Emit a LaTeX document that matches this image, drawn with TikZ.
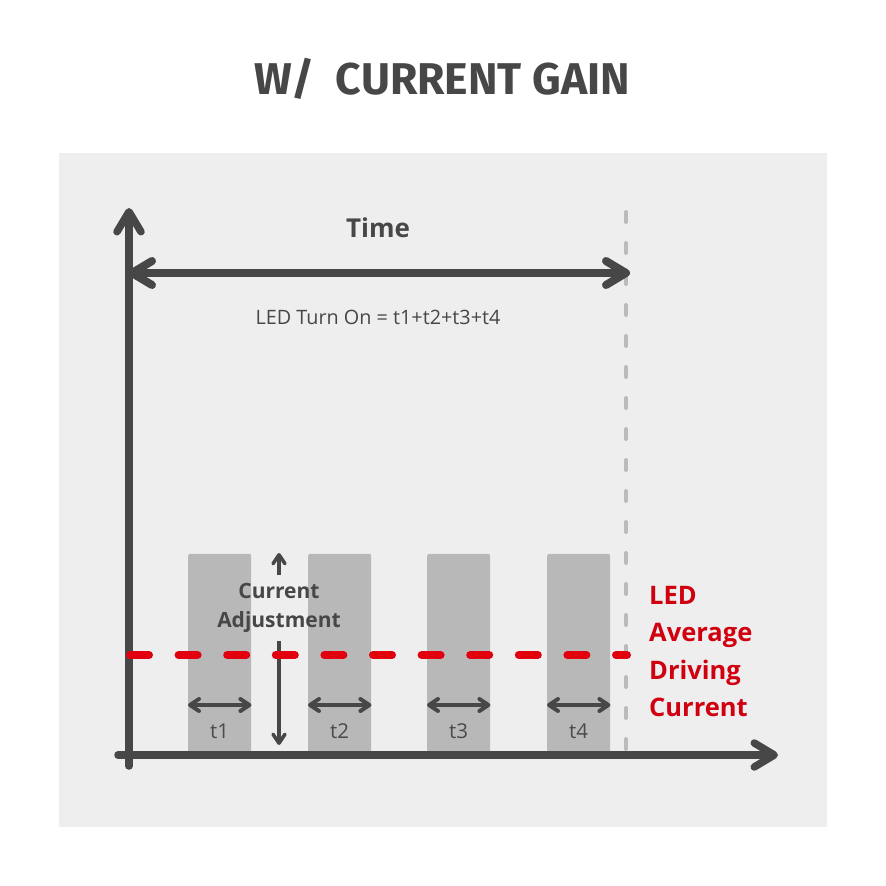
\documentclass[tikz,border=0pt]{standalone}
\usepackage{fontspec}
\setmainfont{Open Sans}
\newfontfamily\titlefont{Fira Sans}
\usetikzlibrary{arrows.meta,positioning}
\definecolor{axisgray}{HTML}{474747}
\definecolor{panelgray}{HTML}{EEEEEE}
\definecolor{bargray}{HTML}{B8B8B8}
\definecolor{guidegray}{HTML}{BBBBBB}
\definecolor{labelgray}{HTML}{4A4A4A}
\definecolor{avgred}{HTML}{E2000F}
\definecolor{textred}{HTML}{D0000F}

\tikzset{
	bighead/.tip={Straight Barb[length=20pt,width=24pt,line cap=round,line join=round]},
	smallhead/.tip={Straight Barb[length=9pt,width=12pt,line cap=round,line join=round]},
	axisline/.style={line width=7.5pt, axisgray, line cap=round},
	tarrow/.style={line width=4pt, axisgray, {smallhead}-{smallhead}},
	adjarrow/.style={line width=3.5pt, axisgray, -{smallhead}},
	bar/.style={fill=bargray, rounded corners=1.5pt, inner sep=0pt, minimum width=63pt, minimum height=199pt, anchor=south west},
	tlabel/.style={font=\fontsize{20.5}{20.5}\selectfont, text=labelgray},
}

\begin{document}
\begin{tikzpicture}[x=1pt,y=-1pt]
	\useasboundingbox[fill=white] (0,0) rectangle (886,886);
	\fill[panelgray] (59,153) rectangle (827,827);
	
	\node[font=\titlefont\bfseries\fontsize{44.5}{44.5}\selectfont, text=axisgray] (title) at (442,79) {W/\ \ CURRENT GAIN};
	
	\coordinate (ybot) at (129,766);
	\coordinate (ytop) at (129,208);
	\coordinate (xbeg) at (118,755);
	\coordinate (xend) at (778,755);
	\coordinate (tbeg) at (128,273);
	\coordinate (tend) at (630,273);
	\coordinate (gtop) at (626,212);
	\coordinate (gbot) at (626,752);
	\coordinate (rbeg) at (130,655);
	\coordinate (rend) at (627,655);
	\coordinate (adjtop) at (279,553);
	\coordinate (adjbot) at (279,745);
	
	\foreach \i/\xl in {1/188,2/308,3/427,4/547} {
		\node[bar] (bar\i) at (\xl,753) {};
		\draw[tarrow] ([yshift=48pt]bar\i.south west) -- ([yshift=48pt]bar\i.south east);
		\node[tlabel] (lab\i) at ([yshift=22pt]bar\i.south) {t\i};
	}
	
	\draw[guidegray, line width=4pt, line cap=round, dash pattern=on 10pt off 21pt] (gtop) -- (gbot);
	
	\draw[axisline, -{bighead}] (ybot) -- (ytop);
	\draw[axisline, -{bighead}] (xbeg) -- (xend);
	\draw[axisline, line width=8pt, {bighead}-{bighead}] (tbeg) -- (tend);
	
	\node[font=\bfseries\fontsize{26}{26}\selectfont, text=axisgray] (time) at (378,228) {Time};
	\node[font=\fontsize{19.8}{19.8}\selectfont, text=axisgray] (turnon) at (378,317) {LED Turn On = t1+t2+t3+t4};
	
	\node[font=\bfseries\fontsize{21}{29}\selectfont, text=axisgray, align=center, inner ysep=8pt] (adj) at (279,608) {Current\\Adjustment};
	\draw[adjarrow] (adj.north) -- (adjtop);
	\draw[adjarrow] (adj.south) -- (adjbot);
	
	\node[font=\bfseries\fontsize{25.5}{37.5}\selectfont, text=textred, align=left, anchor=north west, inner sep=0pt] (avg) at (649,586) {LED\\Average\\Driving\\Current};
	
	\draw[avgred, line width=8pt, line cap=round, dash pattern=on 19pt off 29.6pt] (rbeg) -- (rend);
\end{tikzpicture}
\end{document}
